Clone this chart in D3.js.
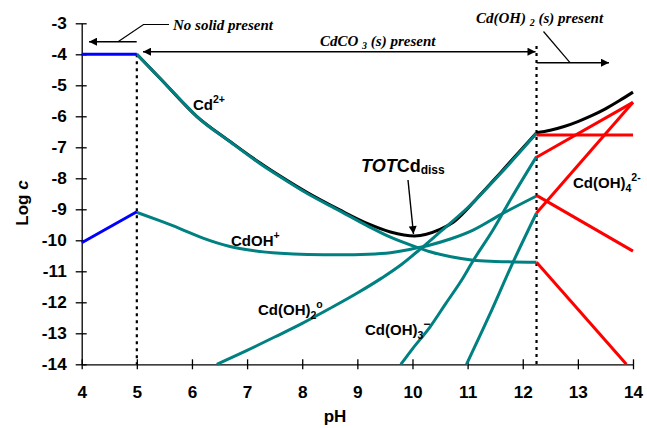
<!DOCTYPE html>
<html><head><meta charset="utf-8">
<script src="https://cdn.jsdelivr.net/npm/d3@7"></script>
<style>body{margin:0;background:#fff}svg{display:block}</style>
</head><body>
<svg id="c" width="647" height="428"></svg>
<script>
// ---------- data ----------
const pHTicks = [4,5,6,7,8,9,10,11,12,13,14];
const logTicks = [-3,-4,-5,-6,-7,-8,-9,-10,-11,-12,-13,-14];
const boundaries = [5, 12.25]; // pH where solids appear

// No solid present (pH 4-5)
const cd2NoSolid  = [[4,-4],[5,-4]];
const cdohNoSolid = [[4,-10.08],[5,-9.08]];

// CdCO3(s) present (pH 5-12.25)
const cd2Carb = [[5,-4],[5.42,-4.77],[5.8,-5.48],[6.085,-6.0],[6.69,-6.82],[7.23,-7.52],[7.6,-7.95],[8.1,-8.5],[8.68,-9.05],[9.2,-9.55],[9.6,-9.9],[10.07,-10.22],[10.32,-10.37],[10.7,-10.53],[11.1,-10.64],[11.5,-10.68],[12.25,-10.71]];
const cdohCarb = [[5,-9.1],[5.4,-9.36],[5.78,-9.62],[6.2,-9.93],[6.69,-10.2],[7.1,-10.33],[7.6,-10.42],[8.1,-10.46],[8.68,-10.47],[9.2,-10.45],[9.6,-10.4],[10.07,-10.25],[10.32,-10.15],[10.7,-9.95],[11.1,-9.67],[11.6,-9.17],[12.25,-8.57]];
const cdoh2Carb = [[6.45,-14],[7,-13.55],[7.5,-13.12],[8,-12.68],[8.5,-12.2],[9,-11.7],[9.44,-11.22],[9.8,-10.78],[10.13,-10.3],[10.5,-9.73],[11,-8.95],[11.58,-7.88],[12.25,-6.55]];
const cdoh3Carb = [[9.79,-14],[10.0,-13.5],[10.32,-12.79],[10.6,-12.05],[10.89,-11.29],[11.1,-10.66],[11.46,-9.67],[11.8,-8.62],[12.25,-7.3]];
const cdoh4Carb = [[10.98,-14],[11.4,-12.4],[11.8,-10.8],[12.25,-9.12]];
const totCarb = [[5,-4],[5.42,-4.77],[6.085,-6.0],[6.69,-6.81],[7.23,-7.5],[7.6,-7.93],[8.1,-8.47],[8.68,-9.02],[9.2,-9.47],[9.6,-9.73],[10.04,-9.86],[10.5,-9.65],[10.74,-9.42],[11.22,-8.55],[11.58,-7.85],[12.25,-6.53]];

// Cd(OH)2(s) present (pH 12.25-14)
const cd2Hyd   = [[12.25,-10.71],[13.88,-14]];
const cdohHyd  = [[12.25,-8.55],[14,-10.35]];
const cdoh2Hyd = [[12.25,-6.6],[14,-6.6]];
const cdoh3Hyd = [[12.25,-7.32],[14,-5.55]];
const cdoh4Hyd = [[12.25,-9.12],[14,-5.55]];
const totHyd   = [[12.25,-6.53],[12.5,-6.45],[12.75,-6.33],[13.0,-6.17],[13.25,-5.98],[13.5,-5.76],[13.75,-5.5],[14,-5.22]];

// ---------- drawing ----------
const svg = d3.select("#c");
const x = d3.scaleLinear().domain([4,14]).range([81.7,633]);
const y = d3.scaleLinear().domain([-3,-14]).range([23.3,364.3]);
const TEAL = "#008080", RED = "#ff0000", BLUE = "#0000ff";
const SANS = "'Liberation Sans', Arial, sans-serif";
const SERIF = "'Liberation Serif', 'Times New Roman', serif";

const defs = svg.append("defs");
defs.append("marker").attr("id","ah").attr("viewBox","0 0 10 10").attr("refX",10).attr("refY",5)
  .attr("markerWidth",12).attr("markerHeight",8).attr("markerUnits","userSpaceOnUse").attr("orient","auto-start-reverse")
  .append("path").attr("d","M0,0L10,5L0,10Z").attr("fill","#000");

// axes
const xAxis = d3.axisBottom(x).tickValues(pHTicks).tickFormat(d=>String(d)).tickSizeInner(5).tickSizeOuter(0).tickPadding(16.5);
const gx = svg.append("g").attr("transform",`translate(0,${y(-14)})`).call(xAxis);
gx.selectAll(".tick line").attr("y1",-5).attr("y2",5);
const yAxis = d3.axisLeft(y).tickValues(logTicks).tickFormat(d=>String(d)).tickSizeInner(6).tickSizeOuter(0).tickPadding(9);
const gy = svg.append("g").attr("transform",`translate(${x(4)},0)`).call(yAxis);
gy.selectAll(".tick line").attr("x1",5).attr("x2",-6);
[gx,gy].forEach(g=>{
  g.selectAll("text").attr("font-family",SANS).attr("font-weight","bold").attr("font-size",17.2).attr("fill","#000");
  g.selectAll("line,path").attr("stroke","#000").attr("stroke-width",1.3);
});

// axis titles
svg.append("text").attr("x",335).attr("y",422).attr("text-anchor","middle")
  .attr("font-family",SANS).attr("font-weight","bold").attr("font-size",17).text("pH");
const yt = svg.append("text").attr("transform","translate(28,203) rotate(-90)").attr("text-anchor","middle")
  .attr("font-family",SANS).attr("font-weight","bold").attr("font-size",17);
yt.append("tspan").text("Log ");
yt.append("tspan").attr("font-style","italic").text("c");

// dotted boundaries
svg.append("line").attr("x1",x(boundaries[0])).attr("x2",x(boundaries[0])).attr("y1",y(-4)).attr("y2",y(-14))
  .attr("stroke","#000").attr("stroke-width",2.2).attr("stroke-dasharray","3,4");
svg.append("line").attr("x1",x(boundaries[1])).attr("x2",x(boundaries[1])).attr("y1",46).attr("y2",y(-14))
  .attr("stroke","#000").attr("stroke-width",2.2).attr("stroke-dasharray","3,4");

const line = d3.line().x(d=>x(d[0])).y(d=>y(d[1])).curve(d3.curveMonotoneX);
function draw(data,color){
  svg.append("path").datum(data).attr("d",line).attr("fill","none").attr("stroke",color)
    .attr("stroke-width",3).attr("stroke-linejoin","round");
}
draw(totCarb,"#000");
draw(totHyd,"#000");
[cd2Carb,cdohCarb,cdoh2Carb,cdoh3Carb,cdoh4Carb].forEach(d=>draw(d,TEAL));
[cd2NoSolid,cdohNoSolid].forEach(d=>draw(d,BLUE));
[cd2Hyd,cdohHyd,cdoh2Hyd,cdoh3Hyd,cdoh4Hyd].forEach(d=>draw(d,RED));

// species labels
function label(xp,yp,parts,size){
  const t = svg.append("text").attr("x",xp).attr("y",yp).attr("font-family",SANS).attr("font-weight","bold").attr("font-size",size||15);
  parts.forEach(p=>{
    const s = t.append("tspan").text(p.t);
    if(p.dy) s.attr("dy",p.dy);
    if(p.fs) s.attr("font-size",p.fs);
    if(p.it) s.attr("font-style","italic");
  });
  return t;
}
label(193,110,[{t:"Cd"},{t:"2+",dy:-7,fs:10.5}]);
label(231,246,[{t:"CdOH"},{t:"+",dy:-7,fs:10.5}]);
label(258,315,[{t:"Cd(OH)"},{t:"2",dy:4,fs:10.5},{t:"o",dy:-11,fs:10.5}]);
label(365,335,[{t:"Cd(OH)"},{t:"3",dy:4,fs:10.5},{t:"\u2212",dy:-11,fs:12}]);
label(573,188,[{t:"Cd(OH)"},{t:"4",dy:4,fs:10.5},{t:"2-",dy:-11,fs:10.5}]);
label(361,172,[{t:"TOT",it:true},{t:"Cd"},{t:"diss",dy:2,fs:12}],18);

// TOTCd arrow
svg.append("line").attr("x1",408).attr("y1",180).attr("x2",413.5).attr("y2",234)
  .attr("stroke","#000").attr("stroke-width",1.4).attr("marker-end","url(#ah)");

// region annotations
function note(xp,yp,parts){
  const t = svg.append("text").attr("x",xp).attr("y",yp).attr("font-family",SERIF).attr("font-weight","bold")
    .attr("font-style","italic").attr("font-size",15);
  parts.forEach(p=>{ const s=t.append("tspan").text(p.t); if(p.dy) s.attr("dy",p.dy); if(p.fs) s.attr("font-size",p.fs); });
}
note(173,30,[{t:"No solid present"}]);
note(320,45.5,[{t:"CdCO "},{t:"3",dy:3,fs:10},{t:" (s) present",dy:-3}]);
note(476,23,[{t:"Cd(OH) "},{t:"2",dy:3,fs:10},{t:" (s) present",dy:-3}]);

// leaders and arrows
svg.append("polyline").attr("points","169,24.5 143.5,24.5 118,41.7").attr("fill","none").attr("stroke","#000").attr("stroke-width",1.2);
svg.append("line").attr("x1",136.7).attr("y1",41.7).attr("x2",89).attr("y2",41.7)
  .attr("stroke","#000").attr("stroke-width",1.4).attr("marker-end","url(#ah)");
svg.append("line").attr("x1",143).attr("y1",51.7).attr("x2",535.5).attr("y2",51.7)
  .attr("stroke","#000").attr("stroke-width",1.4).attr("marker-end","url(#ah)").attr("marker-start","url(#ah)");
svg.append("line").attr("x1",543.5).attr("y1",31.5).attr("x2",570).attr("y2",62.7).attr("stroke","#000").attr("stroke-width",1.2);
svg.append("line").attr("x1",536.7).attr("y1",62.7).attr("x2",609).attr("y2",62.7)
  .attr("stroke","#000").attr("stroke-width",1.4).attr("marker-end","url(#ah)");
</script>
</body></html>
